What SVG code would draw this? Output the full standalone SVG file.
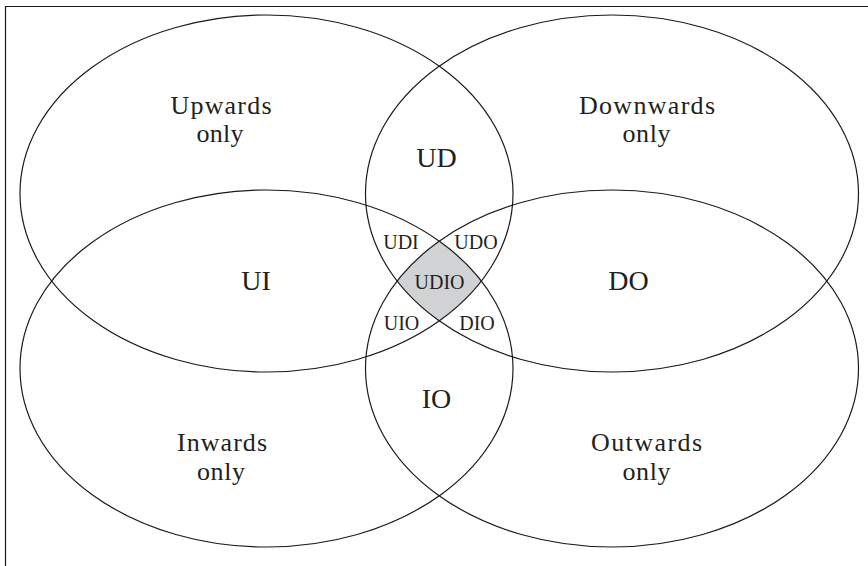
<svg xmlns="http://www.w3.org/2000/svg" width="868" height="566" viewBox="0 0 868 566">
  <style>
    .set { fill: none; stroke: #1a1a1a; stroke-width: 1.2; }
    .frame { fill: none; stroke: #1a1a1a; stroke-width: 1.2; }
    text { font-family: "Liberation Serif", "Times New Roman", serif; fill: #231f20; text-anchor: middle; }
    .big { font-size: 26px; }
    .mid { font-size: 28px; }
    .small { font-size: 20px; }
  </style>
  <defs>
    <clipPath id="clipU"><ellipse cx="266.5" cy="193.5" rx="246.5" ry="178.5"/></clipPath>
    <clipPath id="clipD"><ellipse cx="612" cy="193.5" rx="246.5" ry="178.5"/></clipPath>
    <clipPath id="clipI"><ellipse cx="266.5" cy="368.5" rx="246.5" ry="178.5"/></clipPath>
  </defs>
  <rect x="0" y="0" width="868" height="566" fill="#ffffff"/>
  <path class="frame" d="M5.5,566 V6.5 H868"/>

  <g id="udio-fill" clip-path="url(#clipU)">
    <g clip-path="url(#clipD)">
      <g clip-path="url(#clipI)">
        <ellipse cx="612" cy="368.5" rx="246.5" ry="178.5" fill="#d1d2d4"/>
      </g>
    </g>
  </g>

  <g id="upwards">
    <ellipse class="set" cx="266.5" cy="193.5" rx="246.5" ry="178.5"/>
    <text class="big" x="221" y="114" textLength="101" lengthAdjust="spacing">Upwards</text>
    <text class="big" x="220" y="142" textLength="47" lengthAdjust="spacing">only</text>
  </g>
  <g id="downwards">
    <ellipse class="set" cx="612" cy="193.5" rx="246.5" ry="178.5"/>
    <text class="big" x="647" y="114" textLength="136" lengthAdjust="spacing">Downwards</text>
    <text class="big" x="646.5" y="142" textLength="48" lengthAdjust="spacing">only</text>
  </g>
  <g id="inwards">
    <ellipse class="set" cx="266.5" cy="368.5" rx="246.5" ry="178.5"/>
    <text class="big" x="222" y="451" textLength="90" lengthAdjust="spacing">Inwards</text>
    <text class="big" x="221" y="480" textLength="48" lengthAdjust="spacing">only</text>
  </g>
  <g id="outwards">
    <ellipse class="set" cx="612" cy="368.5" rx="246.5" ry="178.5"/>
    <text class="big" x="646.5" y="451" textLength="111" lengthAdjust="spacing">Outwards</text>
    <text class="big" x="646.5" y="480" textLength="48" lengthAdjust="spacing">only</text>
  </g>

  <g id="intersections">
    <text class="mid" x="436.5" y="167">UD</text>
    <text class="mid" x="256" y="290">UI</text>
    <text class="mid" x="628.5" y="290">DO</text>
    <text class="mid" x="436.5" y="408">IO</text>
    <text class="small" x="401" y="249">UDI</text>
    <text class="small" x="476" y="249">UDO</text>
    <text class="small" x="439.5" y="288.5">UDIO</text>
    <text class="small" x="401.5" y="330">UIO</text>
    <text class="small" x="477" y="330">DIO</text>
  </g>
</svg>
